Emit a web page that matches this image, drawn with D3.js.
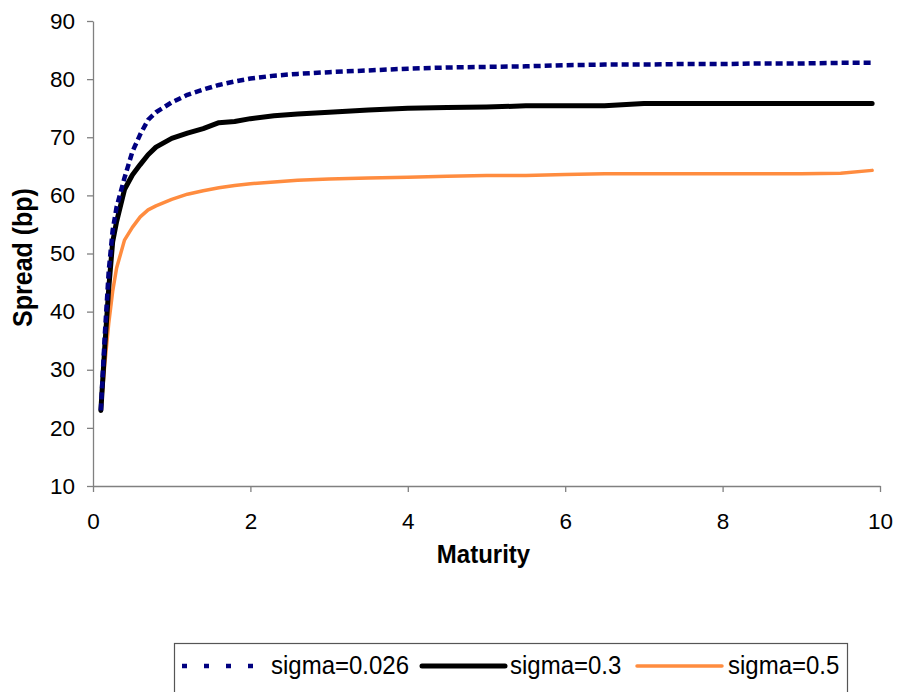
<!DOCTYPE html>
<html>
<head>
<meta charset="utf-8">
<script src="https://cdn.jsdelivr.net/npm/d3@7"></script>
<style>
  body { margin: 0; background: #fff; }
  svg { font-family: "Liberation Sans", Arial, sans-serif; }
  .axis path, .axis line { stroke: #808080; stroke-width: 1.3; }
  .axis text { font-size: 22.5px; fill: #000; }
</style>
</head>
<body>
<div id="chart"></div>
<script>
// Dados
const maturity = [0.1, 0.15, 0.2, 0.25, 0.3, 0.4, 0.5, 0.6, 0.7, 0.8, 1.0, 1.2, 1.4, 1.6, 1.8, 2.0, 2.3, 2.6, 3.0, 3.5, 4.0, 4.5, 5.0, 5.5, 6.0, 6.5, 7.0, 7.5, 8.0, 8.5, 9.0, 9.5, 9.9];
const sigma0026 = [23, 36, 47, 54, 58, 63, 67.5, 70.5, 73, 74.3, 76, 77.3, 78.2, 79, 79.6, 80.1, 80.6, 80.9, 81.2, 81.5, 81.8, 82.0, 82.1, 82.2, 82.4, 82.5, 82.5, 82.6, 82.6, 82.7, 82.7, 82.8, 82.8];
const sigma03 = [23, 34, 44, 52, 55.5, 61, 63.5, 65.3, 67, 68.3, 69.8, 70.7, 71.5, 72.5, 72.7, 73.2, 73.7, 74.0, 74.3, 74.7, 75.0, 75.1, 75.2, 75.4, 75.4, 75.4, 75.8, 75.8, 75.8, 75.8, 75.8, 75.8, 75.8];
const sigma05 = [23, 31, 38, 43.5, 47.5, 52.3, 54.5, 56.3, 57.5, 58.2, 59.3, 60.2, 60.8, 61.3, 61.7, 62.0, 62.3, 62.6, 62.8, 63.0, 63.1, 63.3, 63.4, 63.4, 63.6, 63.7, 63.7, 63.7, 63.7, 63.7, 63.7, 63.8, 64.3];
const seriesNames = ['sigma=0.026', 'sigma=0.3', 'sigma=0.5'];
const xTicks = [0, 2, 4, 6, 8, 10];
const yTicks = [10, 20, 30, 40, 50, 60, 70, 80, 90];

const W = 905, H = 692;
const margin = {top: 21, right: 25, bottom: 206, left: 93};
const width = W - margin.left - margin.right;
const height = H - margin.top - margin.bottom;

const svg = d3.select('#chart').append('svg')
    .attr('width', W)
    .attr('height', H);

const g = svg.append('g')
    .attr('transform', `translate(${margin.left},${margin.top})`);

// Escalas
const x = d3.scaleLinear().domain([0, 10]).range([0, width]);
const y = d3.scaleLinear().domain([10, 90]).range([height, 0]);

// Eixos
g.append('g')
    .attr('class', 'axis')
    .attr('transform', `translate(0,${height})`)
    .call(d3.axisBottom(x).tickValues(xTicks).tickSize(6).tickSizeOuter(0).tickPadding(21));

g.append('g')
    .attr('class', 'axis')
    .call(d3.axisLeft(y).tickValues(yTicks).tickSize(6).tickSizeOuter(0).tickPadding(12));

// Séries
const styles = [
    {values: sigma0026, color: '#000080', width: 4.5, dash: '7,4', legendDash: '5,17'},
    {values: sigma03, color: '#000000', width: 5, dash: null},
    {values: sigma05, color: '#ff8c3f', width: 3.5, dash: null}
];

const line = d3.line()
    .x(d => x(d[0]))
    .y(d => y(d[1]));

// desenhar laranja, preto e depois azul por cima
[2, 1, 0].forEach(i => {
    const s = styles[i];
    g.append('path')
        .datum(maturity.map((m, j) => [m, s.values[j]]))
        .attr('fill', 'none')
        .attr('stroke', s.color)
        .attr('stroke-width', s.width)
        .attr('stroke-dasharray', s.dash)
        .attr('stroke-linejoin', 'round')
        .attr('stroke-linecap', s.dash ? 'butt' : 'round')
        .attr('d', line);
});

// Títulos dos eixos
svg.append('text')
    .attr('transform', `translate(${margin.left + width / 2 - 3}, 563) scale(1, 1.1)`)
    .attr('text-anchor', 'middle')
    .style('font-size', '24px')
    .style('font-weight', 'bold')
    .text('Maturity');

svg.append('text')
    .attr('transform', `translate(32, ${margin.top + height / 2 + 4}) rotate(-90) scale(1, 1.1)`)
    .attr('text-anchor', 'middle')
    .style('font-size', '25px')
    .style('font-weight', 'bold')
    .text('Spread (bp)');

// Legenda
const legend = svg.append('g').attr('class', 'legend');
legend.append('rect')
    .attr('x', 174.5)
    .attr('y', 643.5)
    .attr('width', 673)
    .attr('height', 60)
    .attr('fill', '#fff')
    .attr('stroke', '#555')
    .attr('stroke-width', 1.2);

const legendPos = [
    {x1: 182, x2: 256, tx: 271},
    {x1: 422, x2: 505, tx: 510},
    {x1: 637, x2: 722, tx: 728}
];

styles.forEach((s, i) => {
    const p = legendPos[i];
    legend.append('line')
        .attr('x1', p.x1).attr('x2', p.x2)
        .attr('y1', 666).attr('y2', 666)
        .attr('stroke', s.color)
        .attr('stroke-width', s.width)
        .attr('stroke-dasharray', s.legendDash || null)
        .attr('stroke-linecap', s.dash ? 'butt' : 'round');
    legend.append('text')
        .attr('transform', `translate(${p.tx}, 674) scale(1, 1.08)`)
        .style('font-size', '24px')
        .text(seriesNames[i]);
});
</script>
</body>
</html>
